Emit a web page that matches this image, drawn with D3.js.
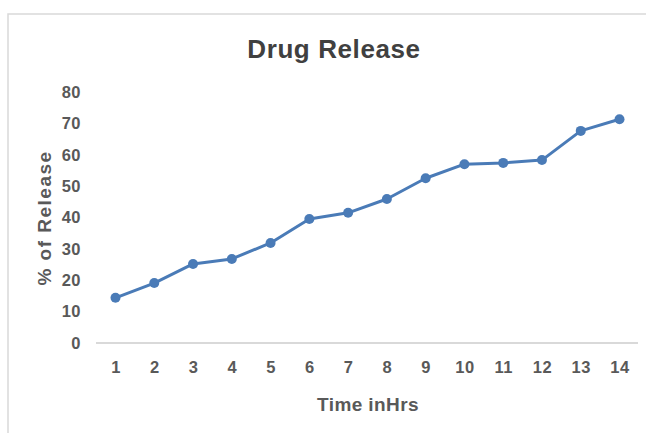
<!DOCTYPE html>
<html><head><meta charset="utf-8">
<script src="https://cdn.jsdelivr.net/npm/d3@7"></script>
<style>body{margin:0;background:#fff;}svg{display:block;font-family:"Liberation Sans",Arial,sans-serif;}</style>
</head><body><svg id="c" width="646" height="433"></svg>
<script>
const hours = [1,2,3,4,5,6,7,8,9,10,11,12,13,14];
const releasePct = [14.4,19.1,25.2,26.8,31.9,39.5,41.5,45.9,52.5,57.0,57.4,58.3,67.6,71.3];
const yTicks = [0,10,20,30,40,50,60,70,80];
const chartTitle = "Drug Release";
const xTitle = "Time inHrs";
const yTitle = "% of Release";

const svg = d3.select("#c");
// chart frame
svg.append("path").attr("d","M8,433 L8,14 L646,14").attr("fill","none").attr("stroke","#d9d9d9").attr("stroke-width",1.5);

const x = d3.scalePoint().domain(hours).range([115.5,619.5]);
const y = d3.scaleLinear().domain([0,80]).range([343,92]);

// baseline
svg.append("line").attr("x1",96).attr("x2",638).attr("y1",y(0)).attr("y2",y(0)).attr("stroke","#d9d9d9").attr("stroke-width",2);

const yAxis = d3.axisLeft(y).tickValues(yTicks).tickSize(0).tickPadding(0);
const gy = svg.append("g").attr("transform","translate(81,0)").call(yAxis);
gy.select(".domain").remove();
gy.selectAll("text").attr("font-size",16.5).attr("font-weight","bold").attr("fill","#595959").attr("letter-spacing",0.5).attr("font-family","Liberation Sans, Arial, sans-serif");

const xAxis = d3.axisBottom(x).tickSize(0).tickPadding(0);
const gx = svg.append("g").attr("transform","translate(0,361)").call(xAxis);
gx.select(".domain").remove();
gx.selectAll("text").attr("font-size",16.5).attr("font-weight","bold").attr("fill","#595959").attr("letter-spacing",0.5).attr("font-family","Liberation Sans, Arial, sans-serif");

svg.append("text").attr("x",334).attr("y",58).attr("text-anchor","middle").attr("font-size",26).attr("font-weight","bold").attr("letter-spacing",0.6).attr("fill","#404040").text(chartTitle);
svg.append("text").attr("x",368).attr("y",411).attr("text-anchor","middle").attr("font-size",19).attr("font-weight","bold").attr("letter-spacing",0.4).attr("fill","#595959").text(xTitle);
svg.append("text").attr("transform","translate(51,218) rotate(-90)").attr("text-anchor","middle").attr("font-size",19).attr("font-weight","bold").attr("letter-spacing",1.5).attr("fill","#595959").text(yTitle);

const line = d3.line().x((d,i)=>x(hours[i])).y(d=>y(d));
svg.append("path").datum(releasePct).attr("d",line).attr("fill","none").attr("stroke","#4a7bb7").attr("stroke-width",3).attr("stroke-linejoin","round");
svg.selectAll("circle.pt").data(releasePct).enter().append("circle").attr("class","pt")
  .attr("cx",(d,i)=>x(hours[i])).attr("cy",d=>y(d)).attr("r",5).attr("fill","#4a7bb7");
</script></body></html>
